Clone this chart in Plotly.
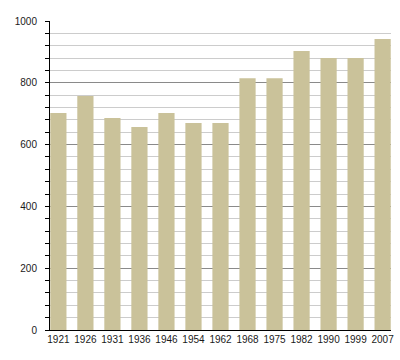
import plotly.graph_objects as go

years = ["1921", "1926", "1931", "1936", "1946", "1954", "1962",
         "1968", "1975", "1982", "1990", "1999", "2007"]
population = [702, 757, 686, 657, 702, 670, 670, 815, 815, 903, 880, 880, 942]

fig = go.Figure()
fig.add_trace(go.Bar(
    x=years, y=population,
    marker=dict(color="#CAC29A", line=dict(width=0)),
    width=0.6,
))

fig.update_layout(
    width=400, height=360,
    margin=dict(l=50, r=9, t=21, b=30, autoexpand=False),
    plot_bgcolor="white", paper_bgcolor="white",
    showlegend=False,
    font=dict(family="Liberation Sans, Arial, sans-serif", size=10, color="#1a1a1a"),
    bargap=0.4,
)
fig.update_xaxes(
    type="category",
    range=[-0.31, 12.31],
    showline=True, linecolor="black", linewidth=1,
    showgrid=False, ticks="", ticklabelstandoff=0,
    automargin=False,
)
fig.update_yaxes(
    range=[0, 1000],
    dtick=200, tick0=0,
    showgrid=True, gridcolor="#8a8a8a", gridwidth=1,
    zeroline=False,
    showline=True, linecolor="black", linewidth=1,
    ticks="outside", ticklen=4, tickcolor="black",
    ticklabelstandoff=6,
    automargin=False,
    minor=dict(dtick=40, tick0=0, showgrid=True, gridcolor="#cccccc",
               ticks="outside", ticklen=4, tickcolor="black"),
)

fig.write_html(
    "out.html",
    config={"displayModeBar": False},
    post_script="document.body.style.margin='0';document.body.style.overflow='hidden';",
)
